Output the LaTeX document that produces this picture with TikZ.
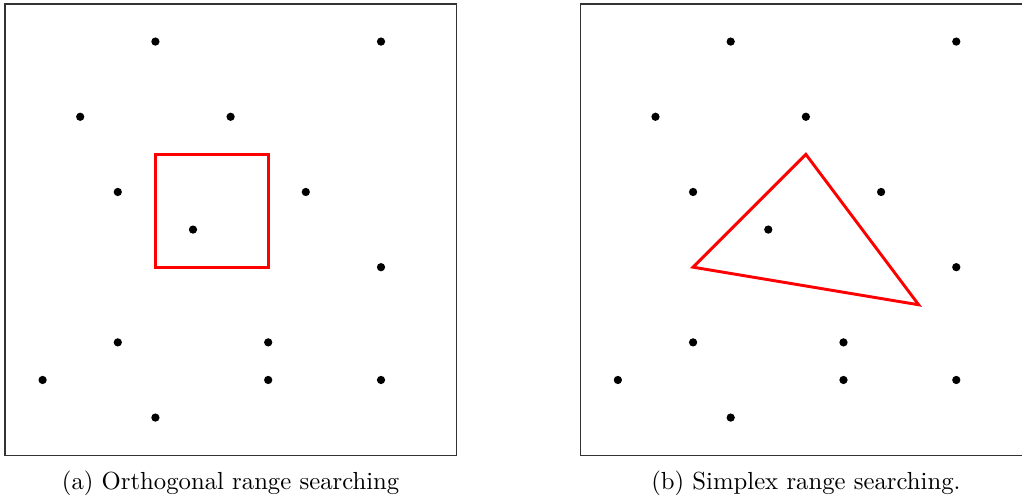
\documentclass[tikz,border=0pt]{standalone}
\usepackage{graphicx}
\begin{document}
\begin{tikzpicture}[x=1cm,y=1cm,
  ptdot/.style={circle,fill=black,inner sep=0pt,minimum size=0.22cm},
  boxframe/.style={draw=black!80,line width=0.8pt},
  queryrange/.style={draw=red,line width=2.2pt,line join=miter},
  captext/.style={anchor=base,font=\normalsize}]
\useasboundingbox (-0.133,-1.112) rectangle (27.048,12.106);
\foreach \side/\dx in {a/0,b/15.3}{
  \begin{scope}[xshift=\dx cm]
    \draw[boxframe] (0,0) rectangle (12,12);
    \node[ptdot] (\side p1) at (4,11) {};
    \node[ptdot] (\side p2) at (10,11) {};
    \node[ptdot] (\side p3) at (2,9) {};
    \node[ptdot] (\side p4) at (6,9) {};
    \node[ptdot] (\side p5) at (3,7) {};
    \node[ptdot] (\side p6) at (8,7) {};
    \node[ptdot] (\side p7) at (5,6) {};
    \node[ptdot] (\side p8) at (10,5) {};
    \node[ptdot] (\side p9) at (3,3) {};
    \node[ptdot] (\side p10) at (7,3) {};
    \node[ptdot] (\side p11) at (1,2) {};
    \node[ptdot] (\side p12) at (7,2) {};
    \node[ptdot] (\side p13) at (10,2) {};
    \node[ptdot] (\side p14) at (4,1) {};
  \end{scope}
}
\coordinate (r1) at (4,5);
\coordinate (r2) at (7,8);
\draw[queryrange] (r1) rectangle (r2);
\coordinate (t1) at (18.3,5);
\coordinate (t2) at (21.3,8);
\coordinate (t3) at (24.3,4);
\draw[queryrange] (t1) -- (t2) -- (t3) -- cycle;
\node[captext] (capa) at (6,-0.92) {\scalebox{1.87}{(a) Orthogonal range searching}};
\node[captext] (capb) at (21.3,-0.92) {\scalebox{1.87}{(b) Simplex range searching.}};
\end{tikzpicture}
\end{document}
